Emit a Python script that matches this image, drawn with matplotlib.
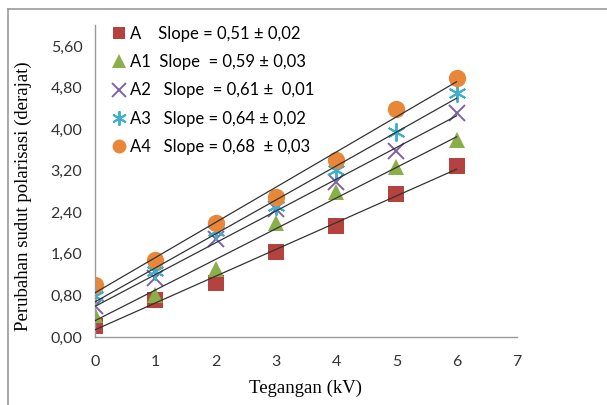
import numpy as np
import matplotlib
matplotlib.use("Agg")
import matplotlib.pyplot as plt
from matplotlib.lines import Line2D

# Data
tegangan = [0, 1, 2, 3, 4, 5, 6]
A = [0.21, 0.71, 1.04, 1.64, 2.14, 2.75, 3.29]
A1 = [0.42, 0.81, 1.30, 2.20, 2.78, 3.27, 3.79]
A2 = [0.60, 1.13, 1.88, 2.47, 2.99, 3.58, 4.30]
A3 = [0.78, 1.26, 2.03, 2.52, 3.21, 3.95, 4.69]
A4 = [1.00, 1.49, 2.20, 2.70, 3.40, 4.38, 4.99]

labels = ["A    Slope = 0,51 ± 0,02",
          "A1  Slope  = 0,59 ± 0,03",
          "A2   Slope  = 0,61 ±  0,01",
          "A3   Slope = 0,64 ± 0,02",
          "A4   Slope = 0,68  ± 0,03"]
yticks = [0.0, 0.8, 1.6, 2.4, 3.2, 4.0, 4.8, 5.6]

series = [A, A1, A2, A3, A4]
colors = ["#B5423F", "#8AAE48", "#7F62A8", "#3FB0CB", "#E8873A"]
markers = ["s", "^", "x", (6, 2, 0), "o"]
sizes = [11, 12, 12, 13, 12.5]

fig = plt.figure(figsize=(6.07, 4.05), dpi=100)
ax = fig.add_axes([0.1565, 0.168, 0.695, 0.770])

x = np.array(tegangan)
for ys, c, m, ms, lab in zip(series, colors, markers, sizes, labels):
    mew = 1.4 if m in ("x", (6, 2, 0)) else 0
    ax.plot(x, ys, linestyle="none", marker=m, color=c, markersize=ms,
            markeredgewidth=mew, label=lab, zorder=2)
    # garis trend linear (seperti Excel)
    k, b = np.polyfit(x, ys, 1)
    xx = np.array([0, 6])
    ax.plot(xx, k * xx + b, color="#333333", linewidth=0.9, zorder=3)

ax.set_xlim(0, 7)
ax.set_ylim(0, 6.0)
ax.set_xticks(range(0, 8))
ax.set_yticks(yticks)
ax.set_yticklabels([f"{v:.2f}".replace(".", ",") for v in yticks])
ax.tick_params(length=0, labelsize=11.5, colors="#333333", pad=9)
for t in ax.get_xticklabels() + ax.get_yticklabels():
    t.set_fontfamily("Lato")
ax.tick_params(axis="x", pad=13)

for s in ["top", "right"]:
    ax.spines[s].set_visible(False)
for s in ["left", "bottom"]:
    ax.spines[s].set_color("#999999")
    ax.spines[s].set_linewidth(1.0)

ax.set_xlabel("Tegangan (kV)", fontfamily="Liberation Serif", fontsize=13.5, labelpad=8)
ax.set_ylabel("Perubahan sudut polarisasi (derajat)", fontfamily="Liberation Serif",
              fontsize=13.5)
ax.yaxis.set_label_coords(-0.15, 0.45)

leg = ax.legend(loc="upper left", bbox_to_anchor=(-0.005, 1.045), frameon=False,
                prop={"family": "Lato", "size": 12}, handletextpad=0.0,
                labelspacing=0.73, handlelength=1.3, markerscale=0.8)

# bingkai luar
fig.add_artist(Line2D([8 / 607, 8 / 607], [0, 1 - 9 / 405], color="#999999", lw=1.2))
fig.add_artist(Line2D([8 / 607, 1], [1 - 9 / 405, 1 - 9 / 405], color="#999999", lw=1.2))

fig.savefig("out.png", dpi=100)
